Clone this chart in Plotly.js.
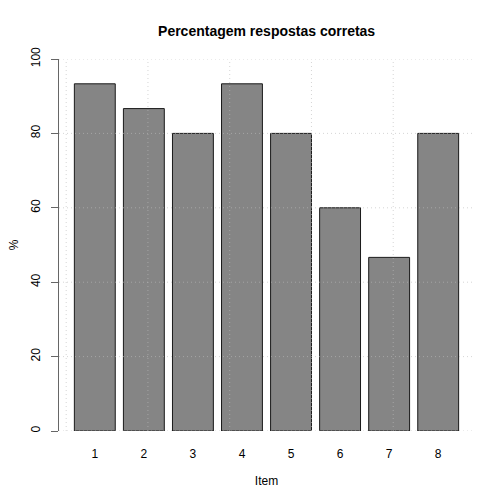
<!DOCTYPE html>
<html>
<head>
<meta charset="utf-8">
<script src="https://cdn.plot.ly/plotly-3.0.1.min.js"></script>
<style>html,body{margin:0;padding:0;background:#fff;}#chart{width:504px;height:504px;}</style>
</head>
<body>
<div id="chart"></div>
<script>
var items = ["1","2","3","4","5","6","7","8"];
var percent = [93.33, 86.67, 80, 93.33, 80, 60, 46.67, 80];
var yTicks = [0, 20, 40, 60, 80, 100];
var xGrid = [0, 2, 4, 6, 8];

// barplot positions (width 1, space 0.2)
var xpos = items.map(function(_, i){ return 0.7 + 1.2*i; });

var gridLine = {color:'#bcbcbc', width:1, dash:'1px,3px'};
var shapes = [];
yTicks.forEach(function(v){
  shapes.push({type:'line', xref:'paper', yref:'y', x0:0, x1:1, y0:v, y1:v,
    line:gridLine, opacity:0.6, layer:'above'});
});
xGrid.forEach(function(v){
  shapes.push({type:'line', xref:'x', yref:'paper', x0:v, x1:v, y0:0, y1:1,
    line:gridLine, opacity:0.6, layer:'above'});
});

var trace = {
  type:'bar', x:xpos, y:percent, width:1,
  marker:{color:'#858585', line:{color:'#1a1a1a', width:1}},
  hoverinfo:'skip'
};

var layout = {
  width:504, height:504,
  margin:{l:59, r:30, t:59, b:73},
  paper_bgcolor:'#fff', plot_bgcolor:'#fff',
  showlegend:false,
  font:{family:'Liberation Sans, Arial, sans-serif', size:12, color:'#000'},
  title:{text:'<b>Percentagem respostas corretas</b>', x:0.529, xanchor:'center', y:0.938, yanchor:'middle',
    font:{size:14, color:'#000'}},
  xaxis:{range:[-0.176, 9.976], tickvals:xpos, ticktext:items, showgrid:false, zeroline:false,
    showline:false, ticks:'', ticklabelstandoff:14,
    title:{text:'Item', standoff:16, font:{size:12}}},
  yaxis:{range:[0,100], tickvals:yTicks, showgrid:false, zeroline:false,
    showline:true, linecolor:'#666', linewidth:1, ticks:'outside', ticklen:7, tickcolor:'#666',
    tickangle:-90, ticklabelstandoff:6,
    title:{text:'%', standoff:8, font:{size:12}}},
  shapes:shapes,
  bargap:0
};
Plotly.newPlot('chart', [trace], layout, {staticPlot:true});
</script>
</body>
</html>
